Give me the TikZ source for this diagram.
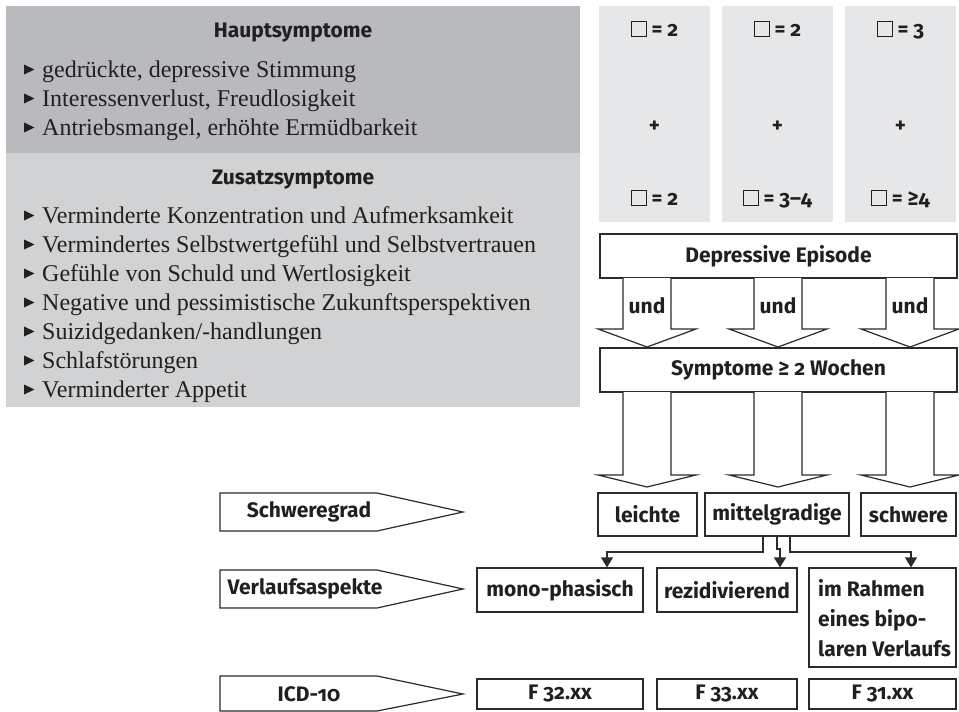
\documentclass[tikz,border=0pt]{standalone}
\usepackage{fontspec}
\setmainfont{Liberation Serif}
\setsansfont{Fira Sans}[Numbers=OldStyle]
\usetikzlibrary{arrows.meta}
\definecolor{hauptgray}{HTML}{B9BABD}
\definecolor{zusatzgray}{HTML}{D1D2D4}
\definecolor{panelgray}{HTML}{E6E7E8}
\definecolor{ink}{HTML}{231F20}
\definecolor{linec}{HTML}{2B2B2B}
\newcommand{\sqb}{{\setlength{\fboxsep}{0pt}\setlength{\fboxrule}{0.9pt}\fbox{\rule{0pt}{14pt}\hspace{14pt}}}}
\begin{document}
\begin{tikzpicture}[x=1pt,y=-1pt,
  sanslbl/.style={font=\sffamily\bfseries\fontsize{21}{25}\selectfont, text=ink, inner sep=0pt},
  itemtxt/.style={font=\fontsize{24}{28}\selectfont, text=ink, inner sep=0pt, anchor=base west},
  boxnode/.style={draw=linec, line width=1.2pt, fill=white, inner sep=0pt, font=\sffamily\bfseries\fontsize{21}{25}\selectfont, text=ink},
  blockarrow/.style={draw=linec, line width=1.2pt, fill=white, line join=miter},
  lblarrow/.style={draw=linec, line width=1.2pt, fill=white},
  conn/.style={draw=linec, line width=1.2pt, -{Triangle[width=12pt,length=10pt]}}
]
\useasboundingbox (0,0) rectangle (959,712);

% left gray panel
\fill[hauptgray] (6,6) rectangle (580,153);
\fill[zusatzgray] (6,153) rectangle (580,407);
\node[sanslbl] (haupt) at (293,33) {Hauptsymptome};
\node[sanslbl] (zusatz) at (293,180) {Zusatzsymptome};

\foreach \b/\t [count=\i] in {77/{gedrückte, depressive Stimmung},106/{Interessenverlust, Freudlosigkeit},135/{Antriebsmangel, erhöhte Ermüdbarkeit}}{
  \fill[ink] (24,\b-12.5) -- (24,\b-2.5) -- (34.5,\b-7.5) -- cycle;
  \node[itemtxt] (h\i) at (42,\b) {\t};
}
\foreach \b/\t [count=\i] in {223/{Verminderte Konzentration und Aufmerksamkeit},252/{Vermindertes Selbstwertgefühl und Selbstvertrauen},281/{Gefühle von Schuld und Wertlosigkeit},310/{Negative und pessimistische Zukunftsperspektiven},339/{Suizidgedanken/-handlungen},368/{Schlafstörungen},397/{Verminderter Appetit}}{
  \fill[ink] (24,\b-12.5) -- (24,\b-2.5) -- (34.5,\b-7.5) -- cycle;
  \node[itemtxt] (z\i) at (42,\b) {\t};
}

% right gray columns
\fill[panelgray] (599,6) rectangle (710,222);
\fill[panelgray] (722,6) rectangle (833,222);
\fill[panelgray] (845,6) rectangle (956,222);
\node[sanslbl, anchor=base] (c1a) at (654.5,36) {\sqb\ = 2};
\node[sanslbl, anchor=base] (c2a) at (777.5,36) {\sqb\ = 2};
\node[sanslbl, anchor=base] (c3a) at (900.5,36) {\sqb\ = 3};
\node[sanslbl] (c1p) at (654.5,127) {+};
\node[sanslbl] (c2p) at (777.5,127) {+};
\node[sanslbl] (c3p) at (900.5,127) {+};
\node[sanslbl, anchor=base] (c1b) at (654.5,205) {\sqb\ = 2};
\node[sanslbl, anchor=base] (c2b) at (777.5,205) {\sqb\ = 3–4};
\node[sanslbl, anchor=base] (c3b) at (900.5,205) {\sqb\ = ≥4};

% Depressive Episode
\node[boxnode, minimum width=357pt, minimum height=44pt] (dep) at (778.5,256) {Depressive Episode};
\node[boxnode, minimum width=357pt, minimum height=44pt] (sym) at (778.5,370) {Symptome ≥ 2 Wochen};

% block arrows row 1
\foreach \c in {647,778,910}{
  \draw[blockarrow] (\c-24,278) -- (\c-24,329) -- (\c-49,329) -- (\c,347) -- (\c+49,329) -- (\c+24,329) -- (\c+24,278);
}
\node[sanslbl] (und1) at (647,306) {und};
\node[sanslbl] (und2) at (778,306) {und};
\node[sanslbl] (und3) at (910,306) {und};
% block arrows row 2
\foreach \c in {647,778,910}{
  \draw[blockarrow] (\c-24,392) -- (\c-24,475) -- (\c-49,475) -- (\c,487) -- (\c+49,475) -- (\c+24,475) -- (\c+24,392);
}

% label arrows
\draw[lblarrow] (220,493) -- (377,493) -- (463,512) -- (377,531) -- (220,531) -- cycle;
\node[sanslbl] (schweregrad) at (309,512) {Schweregrad};
\draw[lblarrow] (220,570) -- (377,570) -- (463,589) -- (377,608) -- (220,608) -- cycle;
\node[sanslbl] (verlauf) at (305,589) {Verlaufsaspekte};
\draw[lblarrow] (220,676) -- (377,676) -- (463,694) -- (377,711) -- (220,711) -- cycle;
\node[sanslbl] (icd) at (309,694) {ICD-10};

% Schweregrad boxes
\node[boxnode, minimum width=99pt, minimum height=43pt] (leichte) at (647.5,514.5) {leichte};
\node[boxnode, minimum width=144pt, minimum height=43pt] (mittel) at (777,514.5) {mittelgradige};
\node[boxnode, minimum width=95pt, minimum height=43pt] (schwere) at (908.5,514.5) {schwere};

% Verlauf boxes
\node[boxnode, minimum width=166pt, minimum height=44pt] (mono) at (560,590) {mono-phasisch};
\node[boxnode, minimum width=140pt, minimum height=44pt] (rezid) at (727,590) {rezidivierend};
\node[boxnode, minimum width=147pt, minimum height=99pt] (rahmen) at (882.5,617.5) {};
\node[sanslbl, anchor=west, align=left, font=\sffamily\bfseries\fontsize{21}{30}\selectfont] (rahmentxt) at (818,618) {im Rahmen\\eines bipo-\\laren Verlaufs};

% ICD boxes
\node[boxnode, minimum width=166pt, minimum height=30pt] (f32) at (560,694) {F 32.xx};
\node[boxnode, minimum width=140pt, minimum height=30pt] (f33) at (727,694) {F 33.xx};
\node[boxnode, minimum width=147pt, minimum height=30pt] (f31) at (882.5,694) {F 31.xx};

% connectors
\draw[conn] (mittel.south -| 763,0) -- (763,552) -| (mono.north -| 607,0);
\draw[conn] (mittel.south -| 777,0) -- (777,549) -- (780,549) -- (rezid.north -| 780,0);
\draw[conn] (mittel.south -| 790,0) -- (790,552) -| (rahmen.north -| 911,0);
\end{tikzpicture}
\end{document}
